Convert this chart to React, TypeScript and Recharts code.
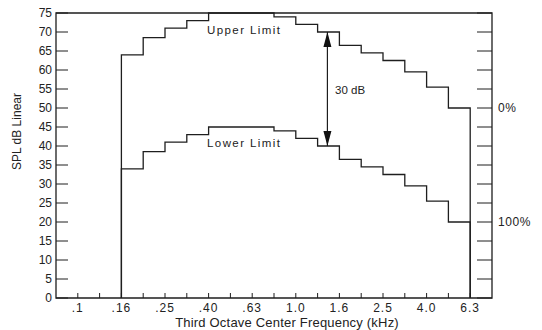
import React from 'react';
import { LineChart, Line, XAxis, YAxis, ReferenceArea, ReferenceLine, ReferenceDot } from 'recharts';

// Third-octave band centre labels (kHz); index 0 = .1
const bandLabels = ['.1', '.125', '.16', '.2', '.25', '.315', '.40', '.5', '.63', '.8', '1.0', '1.25', '1.6', '2.0', '2.5', '3.15', '4.0', '5.0', '6.3'];
// limits start at band .16 (index 2) and run through 5.0, ending at 6.3
const startBand = 2;
const upperLimit = [64, 68.5, 71, 73, 75, 75, 75, 74, 72, 70, 66.5, 64.5, 62.5, 59.5, 55.5, 50];
const lowerLimit = [34, 38.5, 41, 43, 45, 45, 45, 44, 42, 40, 36.5, 34.5, 32.5, 29.5, 25.5, 20];
const yTicks = [0, 5, 10, 15, 20, 25, 30, 35, 40, 45, 50, 55, 60, 65, 70, 75];
const rightLabels: Record<number, string> = { 50: '0%', 20: '100%' };

const data = [
  { band: startBand, upper: 0, lower: 0 },
  ...upperLimit.map((u, i) => ({ band: startBand + i, upper: u, lower: lowerLimit[i] })),
  { band: startBand + upperLimit.length, upper: 0, lower: 0 },
];
const xTicks = bandLabels.map((_, i) => i);

const FONT = '"Liberation Sans", Arial, Helvetica, sans-serif';
const INK = '#1e1e1e';
const X_MARGIN = 3;
const YL_MARGIN = 4;
const YR_MARGIN = 6;

const XTick = (p: any) => {
  const { x, y, payload } = p;
  const i = payload.value as number;
  const axisY = y - X_MARGIN;
  return (
    <g>
      <line x1={x} x2={x} y1={axisY} y2={axisY - 5} stroke={INK} strokeWidth={1} />
      {i % 2 === 0 && (
        <text x={x} y={y} dy={11} textAnchor="middle" fontSize={12} fontFamily={FONT} letterSpacing={1} fill="#222">
          {bandLabels[i]}
        </text>
      )}
    </g>
  );
};

const YLeftTick = (p: any) => {
  const { x, y, payload } = p;
  const axisX = x + YL_MARGIN;
  return (
    <g>
      <line x1={axisX} x2={axisX + 12} y1={y} y2={y} stroke={INK} strokeWidth={1} />
      <text x={x} y={y} dy={4} textAnchor="end" fontSize={12} fontFamily={FONT} fill="#222">
        {payload.value}
      </text>
    </g>
  );
};

const YRightTick = (p: any) => {
  const { x, y, payload } = p;
  const axisX = x - YR_MARGIN;
  const lbl = rightLabels[Number(payload.value)];
  return (
    <g>
      <line x1={axisX} x2={axisX - 15} y1={y} y2={y} stroke={INK} strokeWidth={1} />
      {lbl && (
        <text x={x} y={y} dy={4} textAnchor="start" fontSize={12} fontFamily={FONT} letterSpacing={0.6} fill="#222">
          {lbl}
        </text>
      )}
    </g>
  );
};

const textShape = (txt: string, spacing: number) => (p: any) => (
  <text x={p.cx} y={p.cy} dy={4} textAnchor="start" fontSize={11.5} fontFamily={FONT} letterSpacing={spacing} fill="#222">
    {txt}
  </text>
);

const upArrow = (p: any) => (
  <polygon points={`${p.cx},${p.cy} ${p.cx - 4},${p.cy + 15} ${p.cx + 4},${p.cy + 15}`} fill="#111" />
);
const downArrow = (p: any) => (
  <polygon points={`${p.cx},${p.cy} ${p.cx - 4},${p.cy - 15} ${p.cx + 4},${p.cy - 15}`} fill="#111" />
);

const arrowBand = 11.45;

export default function App() {
  return (
    <div style={{ position: 'absolute', left: 0, top: 0, background: '#fff' }}>
      <LineChart width={542} height={330} data={data} margin={{ top: 13, right: 0, bottom: 0, left: 0 }}>
        <XAxis
          type="number"
          dataKey="band"
          domain={[-1, 19]}
          ticks={xTicks}
          interval={0}
          axisLine={false}
          tickLine={false}
          tickSize={0}
          tickMargin={X_MARGIN}
          height={32}
          tick={XTick}
          label={{
            content: (lp: any) => {
              const vb = lp.viewBox;
              return (
                <text x={vb.x + vb.width / 2 + 13} y={vb.y + 29} textAnchor="middle" fontSize={13} fontFamily={FONT} letterSpacing={0.2} fill="#222">
                  Third Octave Center Frequency (kHz)
                </text>
              );
            },
          }}
        />
        <YAxis
          yAxisId="l"
          type="number"
          domain={[0, 75]}
          ticks={yTicks}
          interval={0}
          width={56}
          axisLine={false}
          tickLine={false}
          tickSize={0}
          tickMargin={YL_MARGIN}
          tick={YLeftTick}
          label={{
            content: (lp: any) => {
              const vb = lp.viewBox;
              const cx = 17;
              const cy = vb.y + vb.height / 2 - 24;
              return (
                <text x={cx} y={cy} dy={4} transform={`rotate(-90 ${cx} ${cy})`} textAnchor="middle" fontSize={12} fontFamily={FONT} fill="#222">
                  SPL dB Linear
                </text>
              );
            },
          }}
        />
        <YAxis
          yAxisId="r"
          orientation="right"
          type="number"
          domain={[0, 75]}
          ticks={yTicks}
          interval={0}
          width={50}
          axisLine={false}
          tickLine={false}
          tickSize={0}
          tickMargin={YR_MARGIN}
          tick={YRightTick}
        />
        <ReferenceArea yAxisId="l" x1={-1} x2={19} y1={0} y2={75} fill="none" stroke={INK} strokeWidth={1.3} ifOverflow="visible" />
        <Line yAxisId="r" type="stepAfter" dataKey="upper" stroke="none" strokeWidth={0} dot={false} activeDot={false} legendType="none" isAnimationActive={false} />
        <Line yAxisId="l" type="stepAfter" dataKey="upper" stroke={INK} strokeWidth={1.3} dot={false} isAnimationActive={false} />
        <Line yAxisId="l" type="stepAfter" dataKey="lower" stroke={INK} strokeWidth={1.3} dot={false} isAnimationActive={false} />
        <ReferenceLine yAxisId="l" segment={[{ x: arrowBand, y: 70 }, { x: arrowBand, y: 40 }]} stroke={INK} strokeWidth={1.2} />
        <ReferenceDot yAxisId="l" x={arrowBand} y={70} r={0} shape={upArrow} />
        <ReferenceDot yAxisId="l" x={arrowBand} y={40} r={0} shape={downArrow} />
        <ReferenceDot yAxisId="l" x={5.93} y={70.5} r={0} shape={textShape('Upper Limit', 1.4)} />
        <ReferenceDot yAxisId="l" x={5.93} y={40.8} r={0} shape={textShape('Lower Limit', 1.4)} />
        <ReferenceDot yAxisId="l" x={11.8} y={54.7} r={0} shape={textShape('30 dB', 0)} />
      </LineChart>
    </div>
  );
}
